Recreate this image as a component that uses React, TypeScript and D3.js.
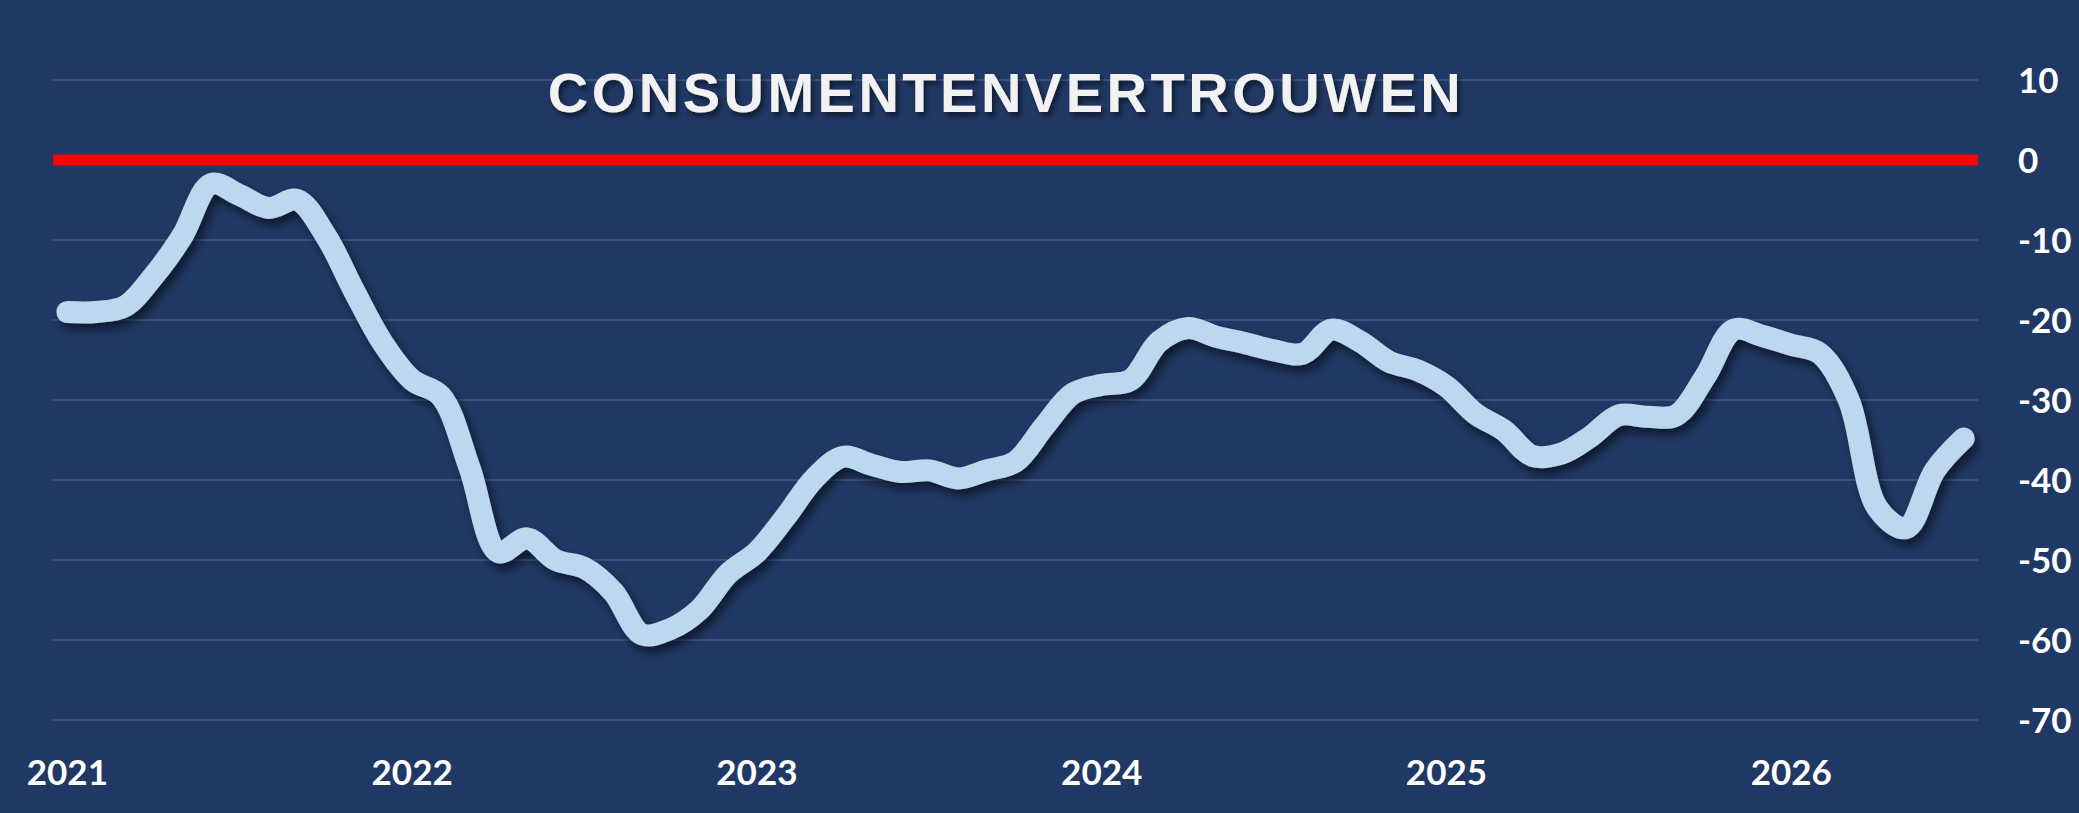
import { useEffect, useRef } from "react";
import * as d3 from "d3";

// ─── Data (monthly) ───────────────────────────────────────────────────────────

const YEARS = ["2021", "2022", "2023", "2024", "2025", "2026"];
const MONTH_CODES = ["01", "02", "03", "04", "05", "06", "07", "08", "09", "10", "11", "12"];

// Jan 2021 … Jul 2026
const VALUES: number[] = [
  -19, -19, -18.3, -14.5, -9.5, -3, -4.4, -6, -5, -9.5, -16.5, -23, // 2021
  -27.5, -29.5, -38.5, -49, -47.3, -50, -51, -54, -59.3, -58.6, -56.2, -51.7, // 2022
  -49, -44.6, -39.8, -37.1, -38.1, -39, -38.8, -39.8, -38.8, -37.7, -33.3, -29.2, // 2023
  -28.1, -27.5, -22.7, -21, -22.1, -22.9, -23.8, -24.2, -21.2, -22.7, -25.2, -26.3, // 2024
  -28.3, -31.7, -33.8, -37, -36.7, -34.6, -31.9, -32.1, -31.9, -27.1, -21.2, -22, // 2025
  -23.1, -24.2, -30, -43.5, -46, -38.8, -34.8, // 2026
];

const Y_TICKS = [10, 0, -10, -20, -30, -40, -50, -60, -70];
const TITLE = "CONSUMENTENVERTROUWEN";

const CATEGORIES = YEARS.flatMap((y) => MONTH_CODES.map((m) => `${y}-${m}`)).slice(
  0,
  VALUES.length,
);

// ─── Palette ──────────────────────────────────────────────────────────────────

const BG = "#203864";
const GRID = "#3a5180";
const LINE = "#bdd7ee";
const RED = "#ff0000";
const TEXT = "#ffffff";
const TITLE_FILL = "#f2f2f2";

export default function App() {
  const svgRef = useRef<SVGSVGElement>(null);

  useEffect(() => {
    if (!svgRef.current) return;

    const W = 2079,
      H = 813;
    const m = { top: 80, right: 101, bottom: 93, left: 53 };

    const svg = d3.select(svgRef.current);
    svg.selectAll("*").remove();
    svg.attr("viewBox", `0 0 ${W} ${H}`);

    const defs = svg.append("defs");
    defs
      .append("filter")
      .attr("id", "lineShadow")
      .attr("x", "-5%")
      .attr("y", "-20%")
      .attr("width", "110%")
      .attr("height", "140%")
      .append("feDropShadow")
      .attr("dx", 4)
      .attr("dy", 6)
      .attr("stdDeviation", 5)
      .attr("flood-color", "#000")
      .attr("flood-opacity", 0.55);
    defs
      .append("filter")
      .attr("id", "titleShadow")
      .append("feDropShadow")
      .attr("dx", 3)
      .attr("dy", 4)
      .attr("stdDeviation", 2.5)
      .attr("flood-color", "#000")
      .attr("flood-opacity", 0.5);

    svg.append("rect").attr("width", W).attr("height", H).attr("fill", BG);

    const x = d3
      .scaleBand()
      .domain(CATEGORIES)
      .range([m.left, W - m.right])
      .padding(0);
    const y = d3
      .scaleLinear()
      .domain([-70, 10])
      .range([H - m.bottom, m.top]);
    const cx = (c: string) => x(c)! + x.bandwidth() / 2;

    // Grid
    svg
      .append("g")
      .selectAll("line")
      .data(Y_TICKS)
      .join("line")
      .attr("x1", m.left)
      .attr("x2", W - m.right)
      .attr("y1", (d) => y(d))
      .attr("y2", (d) => y(d))
      .attr("stroke", GRID)
      .attr("stroke-width", 2);

    // Zero line
    svg
      .append("line")
      .attr("x1", m.left)
      .attr("x2", W - m.right)
      .attr("y1", y(0))
      .attr("y2", y(0))
      .attr("stroke", RED)
      .attr("stroke-width", 11);

    // Title
    svg
      .append("text")
      .attr("x", 1006)
      .attr("y", 112)
      .attr("text-anchor", "middle")
      .attr("font-family", "'Liberation Sans', Arial, sans-serif")
      .attr("font-weight", 700)
      .attr("font-size", 56)
      .attr("letter-spacing", 3.5)
      .attr("fill", TITLE_FILL)
      .attr("filter", "url(#titleShadow)")
      .text(TITLE);

    // Series
    const line = d3
      .line<number>()
      .x((_, i) => cx(CATEGORIES[i]))
      .y((d) => y(d))
      .curve(d3.curveCatmullRom.alpha(0.5));

    svg
      .append("path")
      .datum(VALUES)
      .attr("d", line)
      .attr("fill", "none")
      .attr("stroke", LINE)
      .attr("stroke-width", 22)
      .attr("stroke-linecap", "round")
      .attr("stroke-linejoin", "round")
      .attr("filter", "url(#lineShadow)");

    // Right axis labels
    svg
      .append("g")
      .selectAll("text")
      .data(Y_TICKS)
      .join("text")
      .attr("x", 2018)
      .attr("y", (d) => y(d) + 12.5)
      .attr("font-family", "Lato, sans-serif")
      .attr("font-weight", 700)
      .attr("font-size", 35)
      .attr("fill", TEXT)
      .text((d) => d);

    // Year labels (January of each year)
    svg
      .append("g")
      .selectAll("text")
      .data(YEARS)
      .join("text")
      .attr("x", (d) => cx(`${d}-01`))
      .attr("y", 785)
      .attr("text-anchor", "middle")
      .attr("font-family", "Lato, sans-serif")
      .attr("font-weight", 700)
      .attr("font-size", 35)
      .attr("fill", TEXT)
      .text((d) => d);
  }, []);

  return (
    <div style={{ position: "absolute", left: 0, top: 0, width: 2079, height: 813 }}>
      <svg
        ref={svgRef}
        width={2079}
        height={813}
        style={{ display: "block" }}
        role="img"
        aria-label="Consumentenvertrouwen 2021 tot 2026"
      />
    </div>
  );
}
